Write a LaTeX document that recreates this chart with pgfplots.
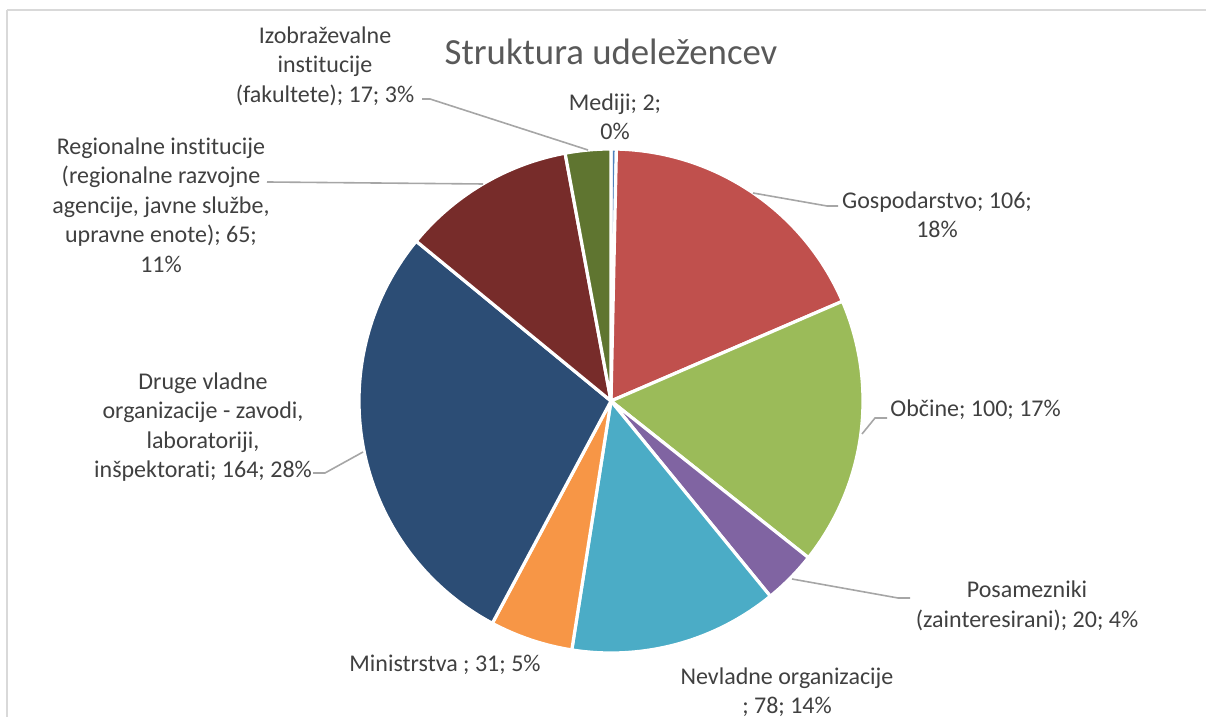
\documentclass[border=0pt]{standalone}
\usepackage{pgfplots}
\usepackage{pgfplotstable}
\pgfplotsset{compat=1.18}
\usepackage{fontspec}
\setmainfont[RawFeature={-liga;-clig;-dlig}]{Carlito}
\definecolor{cMed}{HTML}{4F81BD}
\definecolor{cGos}{HTML}{C0504D}
\definecolor{cObc}{HTML}{9BBB59}
\definecolor{cPos}{HTML}{8064A2}
\definecolor{cNev}{HTML}{4BACC6}
\definecolor{cMin}{HTML}{F79646}
\definecolor{cDru}{HTML}{2C4D75}
\definecolor{cReg}{HTML}{772C2A}
\definecolor{cIzo}{HTML}{5F7530}
\definecolor{lbl}{HTML}{404040}
\definecolor{ttl}{HTML}{595959}
\definecolor{lead}{HTML}{A6A6A6}
\definecolor{frame}{HTML}{D9D9D9}

% Structure of participants: category, count, colour (clockwise from 12 o'clock)
\pgfplotstableread{
name value color
Mediji 2 cMed
Gospodarstvo 106 cGos
Obcine 100 cObc
Posamezniki 20 cPos
Nevladne 78 cNev
Ministrstva 31 cMin
Druge 164 cDru
Regionalne 65 cReg
Izobrazevalne 17 cIzo
}\pietable

\begin{document}
\begin{tikzpicture}
\begin{axis}[
  x=0.5pt, y=0.5pt,
  xmin=0, xmax=1206, ymin=0, ymax=717,
  hide axis, clip=false,
]
% frame
\draw[frame, line width=1pt] (axis cs:7,707) -- (axis cs:1220,707);
\draw[frame, line width=1pt] (axis cs:7,707) -- (axis cs:7,-20);

% total
\pgfplotstablegetrowsof{\pietable}
\pgfmathtruncatemacro\N{\pgfplotsretval-1}
\def\total{0}
\pgfplotsforeachungrouped \i in {0,...,\N}{%
  \pgfplotstablegetelem{\i}{value}\of\pietable
  \pgfmathsetmacro\total{\total+\pgfplotsretval}%
}
\def\cum{0}
\pgfplotsforeachungrouped \i in {0,...,\N}{%
  \pgfplotstablegetelem{\i}{value}\of\pietable \let\v\pgfplotsretval
  \pgfplotstablegetelem{\i}{color}\of\pietable \let\c\pgfplotsretval
  \pgfmathsetmacro\a{90-\cum/\total*360}%
  \pgfmathsetmacro\cum{\cum+\v}%
  \pgfmathsetmacro\b{90-\cum/\total*360}%
  \edef\temp{\noexpand\addplot[fill=\c, draw=white, line width=1.6pt, line join=round,
     domain=\b:\a, samples=80, variable=\noexpand\t]
     ({611+252*cos(\noexpand\t)},{316+252*sin(\noexpand\t)}) -- (axis cs:611,316) -- cycle;}%
  \temp
}

% leader lines
\draw[lead, line width=0.8pt] (axis cs:422,618) -- (axis cs:430,618) -- (axis cs:588,567);
\draw[lead, line width=0.8pt] (axis cs:267,535) -- (axis cs:483,533);
\draw[lead, line width=0.8pt] (axis cs:753,524) -- (axis cs:827,511) -- (axis cs:838,511);
\draw[lead, line width=0.8pt] (axis cs:862,283) -- (axis cs:875,299) -- (axis cs:887,299);
\draw[lead, line width=0.8pt] (axis cs:792,138) -- (axis cs:898,119) -- (axis cs:910,119);
\draw[lead, line width=0.8pt] (axis cs:363,265) -- (axis cs:325,244) -- (axis cs:313,244);

% title
\node[anchor=base, text=ttl, font=\fontsize{18.4}{22}\selectfont] at (axis cs:611,652) {Struktura udeležencev};

% labels
\tikzset{lab/.style={text=lbl, align=center, font=\fontsize{12}{14.7}\selectfont, inner sep=0pt}}
\node[lab] at (axis cs:325,651) {Izobraževalne\\institucije\\(fakultete); 17; 3\%};
\node[lab] at (axis cs:615,600) {Mediji; 2;\\0\%};
\node[lab] at (axis cs:937,502) {Gospodarstvo; 106;\\18\%};
\node[lab] at (axis cs:161,512) {Regionalne institucije\\(regionalne razvojne\\agencije, javne službe,\\upravne enote); 65;\\11\%};
\node[lab, anchor=base west] at (axis cs:890,300) {Občine; 100; 17\%};
\node[lab] at (axis cs:203,290) {Druge vladne\\organizacije - zavodi,\\laboratoriji,\\inšpektorati; 164; 28\%};
\node[lab] at (axis cs:1027,111) {Posamezniki\\(zainteresirani); 20; 4\%};
\node[lab] at (axis cs:787,25) {Nevladne organizacije\\; 78; 14\%};
\node[lab, anchor=base] at (axis cs:445,45) {Ministrstva ; 31; 5\%};
\end{axis}
\pgfresetboundingbox
\path (current axis.south west) rectangle (current axis.north east);
\end{tikzpicture}
\end{document}
